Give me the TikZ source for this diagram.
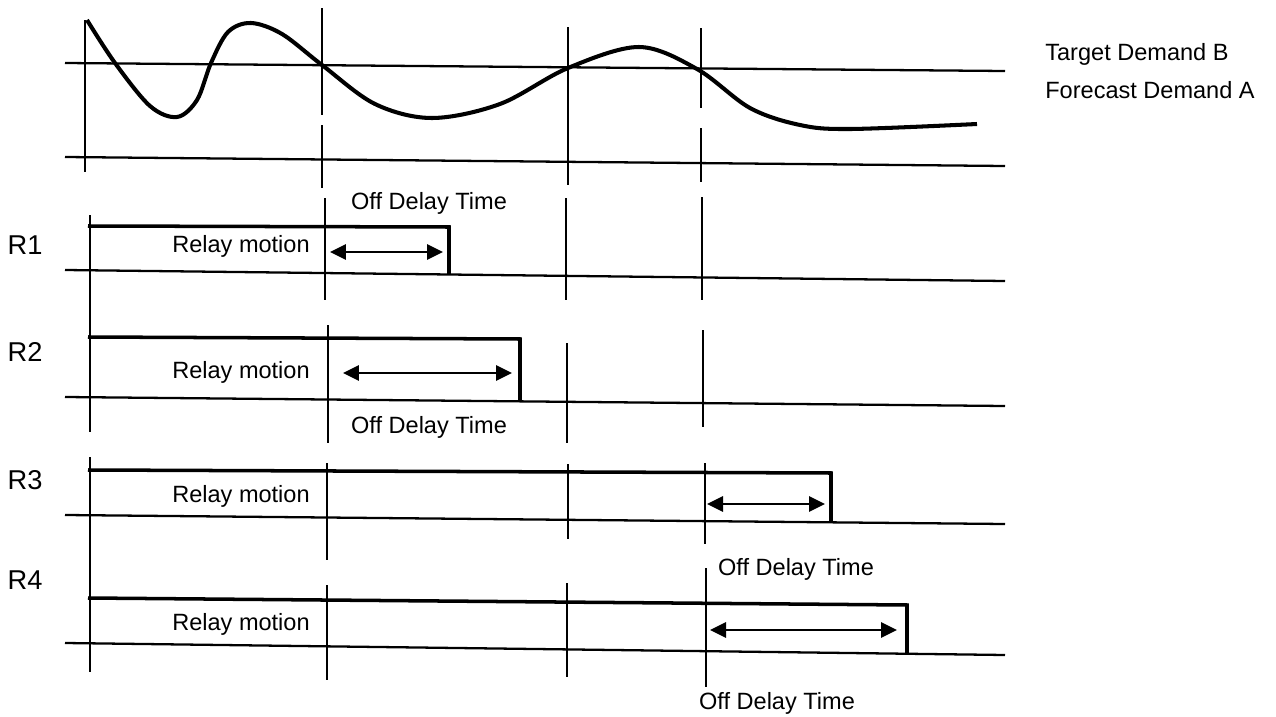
\documentclass[tikz,border=0pt]{standalone}
\usepackage{fontspec}
\setmainfont{Liberation Sans}
\usetikzlibrary{arrows.meta}
\tikzset{
    txt/.style={font=\fontsize{13.4}{16}\selectfont, inner sep=0pt},
    rlab/.style={font=\fontsize{15.5}{18}\selectfont, inner sep=0pt},
    axis/.style={line width=1.3pt},
    tick/.style={line width=0.7pt},
    relay/.style={line width=2pt, line join=miter},
    demand/.style={line width=2.3pt, line join=round},
    delay/.style={line width=1.7pt, {Triangle[length=0.32cm,width=0.3cm]}-{Triangle[length=0.32cm,width=0.3cm]}}
}
\begin{document}
\begin{tikzpicture}[x=0.02cm, y=-0.02cm]
    \useasboundingbox (0,0) rectangle (1276,717);
    % Demand
        \draw[axis] (65,63) -- (1005,71);
        \draw[axis] (65,157) -- (1005,166);
        \draw[demand] plot[smooth, tension=0.55] coordinates {(87,20) (115,63) (150,106) (177,117) (197,100) (211,63) (228,32) (251,23) (282,34) (322,65) (375,104) (432,118) (500,104) (568,68) (639,47) (697,69) (750,108) (800,125) (850,129) (977,124)};
    % Time marks
        \foreach \x/\ya/\yb in {85/20/172, 90/215/432, 90/457/672,
            322/8/115, 322/125/188, 325/198/300, 328/325/443, 327/463/560, 327/585/680,
            568/27/185, 566/198/300, 567/343/443, 568/464/539, 567/583/677,
            701/28/108, 701/128/182, 702/197/300, 703/330/427, 705/463/544, 706/568/687}{
            \draw[tick] (\x,\ya) -- (\x,\yb);
        }
    % Relays
        \foreach \n/\bl/\br/\tl/\tr/\xo/\yd/\ya/\xa/\xb in {1/270/281/226/227/449/274/252/330/443,
            2/397/406/337/339/520/401/373/343/512,
            3/515/524/470/473/831/522/504/707/825,
            4/643/655/598/605/907/654/630/710/897}{
            \draw[axis] (65,\bl) -- (1005,\br);
            \draw[relay] (88,\tl) -- (\xo,\tr) -- (\xo,\yd);
            \coordinate (s\n) at (\xa,\ya);
            \coordinate (e\n) at (\xb,\ya);
            \draw[delay] (s\n) -- (e\n);
        }
    % Labels
        \node[txt, anchor=west] (target) at (1045,54) {Target Demand B};
        \node[txt, anchor=west] (forecast) at (1045,90) {Forecast Demand A};
        \foreach \n/\yr/\ym in {1/245/246, 2/352/372, 3/480/496, 4/580/624}{
            \node[rlab] (r\n) at (25,\yr) {R\n};
            \node[txt] (motion\n) at (241,\ym) {Relay motion};
        }
        \node[txt] (off1) at (429,203) {Off Delay Time};
        \node[txt] (off2) at (429,427) {Off Delay Time};
        \node[txt] (off3) at (796,569) {Off Delay Time};
        \node[txt] (off4) at (777,703) {Off Delay Time};
\end{tikzpicture}
\end{document}
